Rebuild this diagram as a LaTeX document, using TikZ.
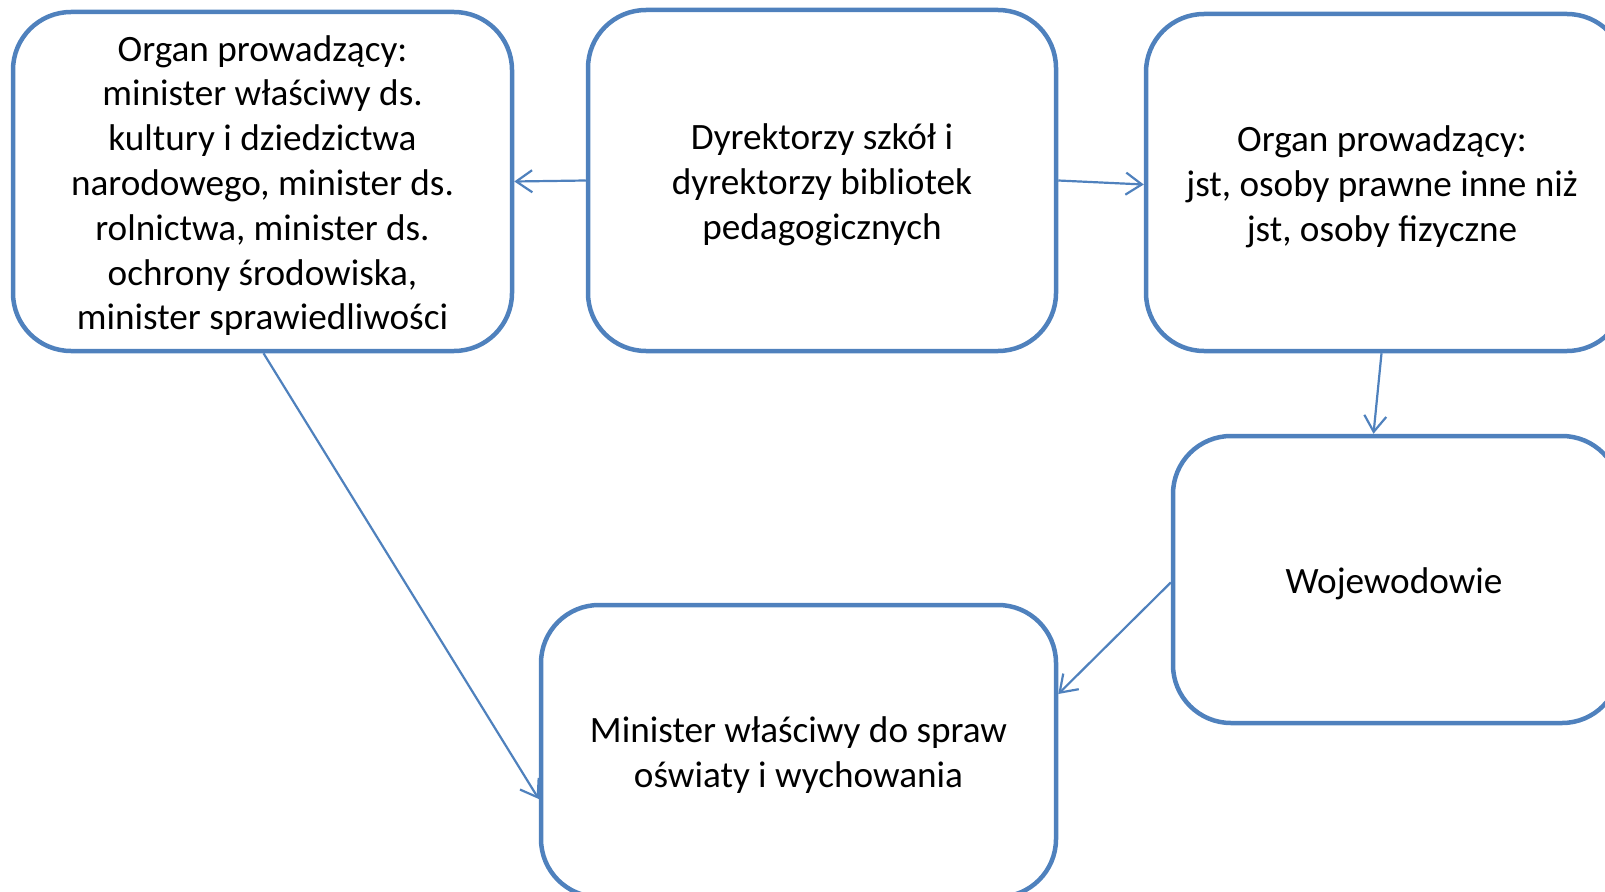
\documentclass[tikz,border=0pt]{standalone}
\usepackage{fontspec}
\setmainfont{Carlito}
\usetikzlibrary{arrows.meta}
\definecolor{boxblue}{HTML}{4F81BD}
\tikzset{
  box/.style={draw=boxblue, line width=4.5pt, rounded corners=58pt, rectangle, inner sep=0pt},
  txt/.style={align=center, inner sep=0pt, font=\fontsize{37.2}{44.8}\selectfont, text=black},
  conn/.style={draw=boxblue, line width=2.2pt, -{Straight Barb[length=16pt,width=22pt,line width=2.2pt]}}
}
\begin{document}
\begin{tikzpicture}[x=1pt,y=-1pt]
\useasboundingbox (0,0) rectangle (1605,891);
\node[box, minimum width=499pt, minimum height=339pt] (A) at (262.5,181.5) {};
\node[txt] (At) at (262.5,185.5)
  {Organ prowadzący:\\minister właściwy ds.\\kultury i dziedzictwa\\narodowego, minister ds.\\rolnictwa, minister ds.\\ochrony środowiska,\\minister sprawiedliwości};
\node[box, minimum width=468pt, minimum height=341pt] (B) at (822,180.5) {};
\node[txt] (Bt) at (822,184.5)
  {Dyrektorzy szkół i\\dyrektorzy bibliotek\\pedagogicznych};
\node[box, minimum width=479pt, minimum height=337pt] (C) at (1385.5,182.5) {};
\node[txt] (Ct) at (1382,186.5)
  {Organ prowadzący:\\jst, osoby prawne inne niż\\jst, osoby fizyczne};
\node[box, minimum width=447pt, minimum height=287pt] (D) at (1396.5,579.5) {};
\node[txt] (Dt) at (1394,583.5) {Wojewodowie};
\node[box, minimum width=515pt, minimum height=292pt] (E) at (798.5,751) {};
\node[txt] (Et) at (798.5,755)
  {Minister właściwy do spraw\\oświaty i wychowania};
\draw[conn] (B.west) -- (A.east);
\draw[conn] (B.east) -- ([yshift=-2pt]C.west);
\draw[conn] ([xshift=-4pt]C.south) -- ([xshift=-23pt]D.north);
\draw[conn] ([yshift=-3pt]D.west) -- ([yshift=57pt]E.east);
\draw[conn] ([xshift=1pt]A.south) -- ([yshift=-48pt]E.west);
\end{tikzpicture}
\end{document}
